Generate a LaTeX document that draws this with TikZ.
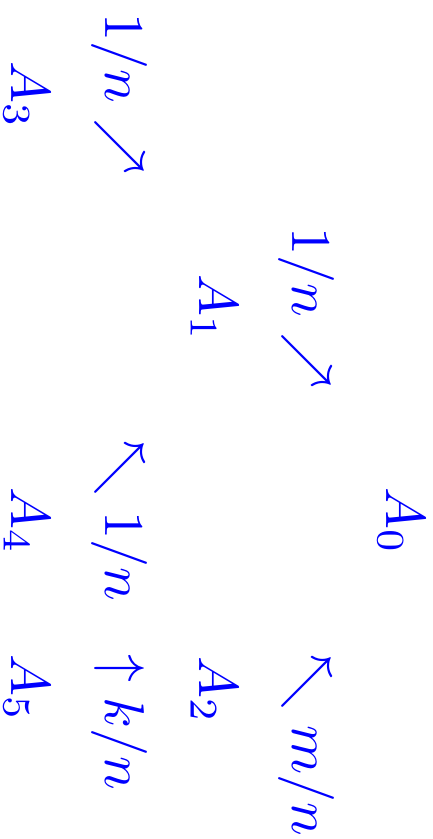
\documentclass[tikz,border=0pt]{standalone}
\begin{document}
\begin{tikzpicture}[x=1pt,y=1pt,
  lbl/.style={text=blue, rotate=-90, scale=5.6, anchor=base west, inner sep=0pt,
              font=\normalsize}]
\useasboundingbox (0,0) rectangle (433,-839);
\node[lbl] (a0) at (386,-486) {$A_0$};
\node[lbl] (e01) at (292,-226) {$1/n\nearrow$};
\node[lbl] (e02) at (292,-653) {$\nwarrow m/n$};
\node[lbl] (a1) at (199,-273) {$A_1$};
\node[lbl] (a2) at (199,-655) {$A_2$};
\node[lbl] (e13) at (105,-12) {$1/n\nearrow$};
\node[lbl] (e14) at (105,-439) {$\nwarrow 1/n$};
\node[lbl] (e25) at (105,-653) {$\uparrow k/n$};
\node[lbl] (a3) at (12,-60) {$A_3$};
\node[lbl] (a4) at (12,-486) {$A_4$};
\node[lbl] (a5) at (12,-653) {$A_5$};
\end{tikzpicture}
\end{document}
